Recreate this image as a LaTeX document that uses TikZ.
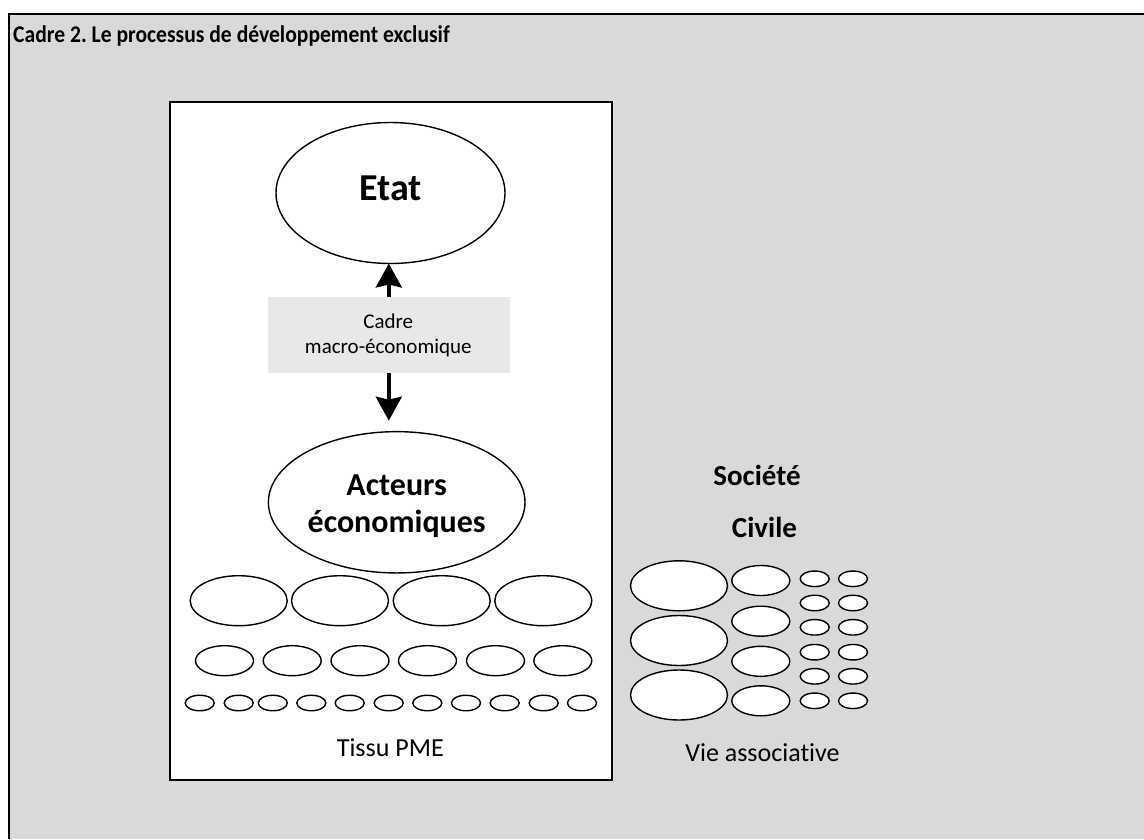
\documentclass[tikz,border=0pt]{standalone}
\usepackage{fontspec}
\setmainfont{Carlito}[Ligatures=NoCommon]
\newfontfamily\headingfont{Carlito}[Ligatures=NoCommon,FakeStretch=0.9]
\usetikzlibrary{shapes.geometric,arrows.meta}
\definecolor{panelgray}{HTML}{D9D9D9}
\definecolor{notegray}{HTML}{E8E8E8}
\frenchspacing
\begin{document}
\begin{tikzpicture}[x=1pt,y=-1pt,
  bubble/.style={ellipse,draw=black,line width=1.4pt,fill=white,inner sep=0pt,outer sep=0pt},
  big/.style={bubble,minimum width=97pt,minimum height=50pt},
  mid/.style={bubble,minimum width=58pt,minimum height=30pt},
  small/.style={bubble,minimum width=29pt,minimum height=15.5pt},
  flow/.style={line width=3.5pt,-{Stealth[length=24pt,width=26pt,inset=3pt]}},
  heading/.style={font=\headingfont\bfseries\fontsize{24}{29}\selectfont,inner sep=0pt,anchor=base west},
  actor/.style={font=\bfseries\fontsize{32}{38}\selectfont,inner sep=0pt,anchor=base},
  society/.style={font=\bfseries\fontsize{29}{35}\selectfont,inner sep=0pt,anchor=base},
  caption/.style={font=\fontsize{26}{31}\selectfont,inner sep=0pt,anchor=base},
  note/.style={font=\fontsize{21}{25}\selectfont,inner sep=0pt,anchor=base}]
\useasboundingbox (0,0) rectangle (1144,839);

% outer frame
\fill[panelgray] (9,14) rectangle (1144,839);
\draw[line width=2pt] (9,839) -- (9,14) -- (1144,14);
\node[heading] (title) at (13,42.5) {Cadre 2. Le processus de développement exclusif};

% white panel with the state and economic actors
\draw[line width=1.6pt,fill=white] (170,102) rectangle (611.7,780);

\node[bubble,minimum width=229pt,minimum height=141pt] (etat) at (390.5,193) {};
\node[actor,font=\bfseries\fontsize{38}{44}\selectfont] (etatlbl) at (390.5,200.5) {Etat};

\node[fill=notegray,minimum width=242.3pt,minimum height=76pt,inner sep=0pt] (macro) at (388.8,334.7) {};
\node[note] (macro1) at (388.3,328) {Cadre};
\node[note] (macro2) at (388.3,353.3) {macro-économique};

\node[bubble,minimum width=256.6pt,minimum height=141.3pt] (acteurs) at (396.7,502.3) {};
\node[actor] (acteurs1) at (396.7,495.5) {Acteurs};
\node[actor] (acteurs2) at (396.7,532) {économiques};

\draw[flow] (macro.north) -- (macro.north |- etat.south);
\draw[flow,shorten >=11pt] (macro.south) -- (macro.south |- acteurs.north);

% small and medium enterprises
\foreach \x [count=\i] in {238.7,340,441.7,543.3}
  \node[big] (pme1-\i) at (\x,600.7) {};
\foreach \x [count=\i] in {224.5,292.2,360,427.5,495.5,562.8}
  \node[mid] (pme2-\i) at (\x,660.7) {};
\foreach \x [count=\i] in {199.7,238.7,272.8,311.3,349.7,388.7,427.3,466,504.7,543.7,582}
  \node[small] (pme3-\i) at (\x,703) {};
\node[caption] (tissu) at (390.3,756) {Tissu PME};

% civil society
\node[society] (societe) at (757,485) {Société};
\node[society] (civile) at (764.5,537.7) {Civile};
\foreach \y [count=\i] in {585.8,640.5,695}
  \node[big] (asso1-\i) at (679,\y) {};
\foreach \y [count=\i] in {580.5,621.2,661.3,700.8}
  \node[mid] (asso2-\i) at (760.8,\y) {};
\foreach \y [count=\i] in {578.8,603,627.3,652.2,676.3,700.8} {
  \node[small] (asso3-\i) at (814.7,\y) {};
  \node[small] (asso4-\i) at (853,\y) {};
}
\node[caption] (vie) at (762.5,761) {Vie associative};
\end{tikzpicture}
\end{document}
